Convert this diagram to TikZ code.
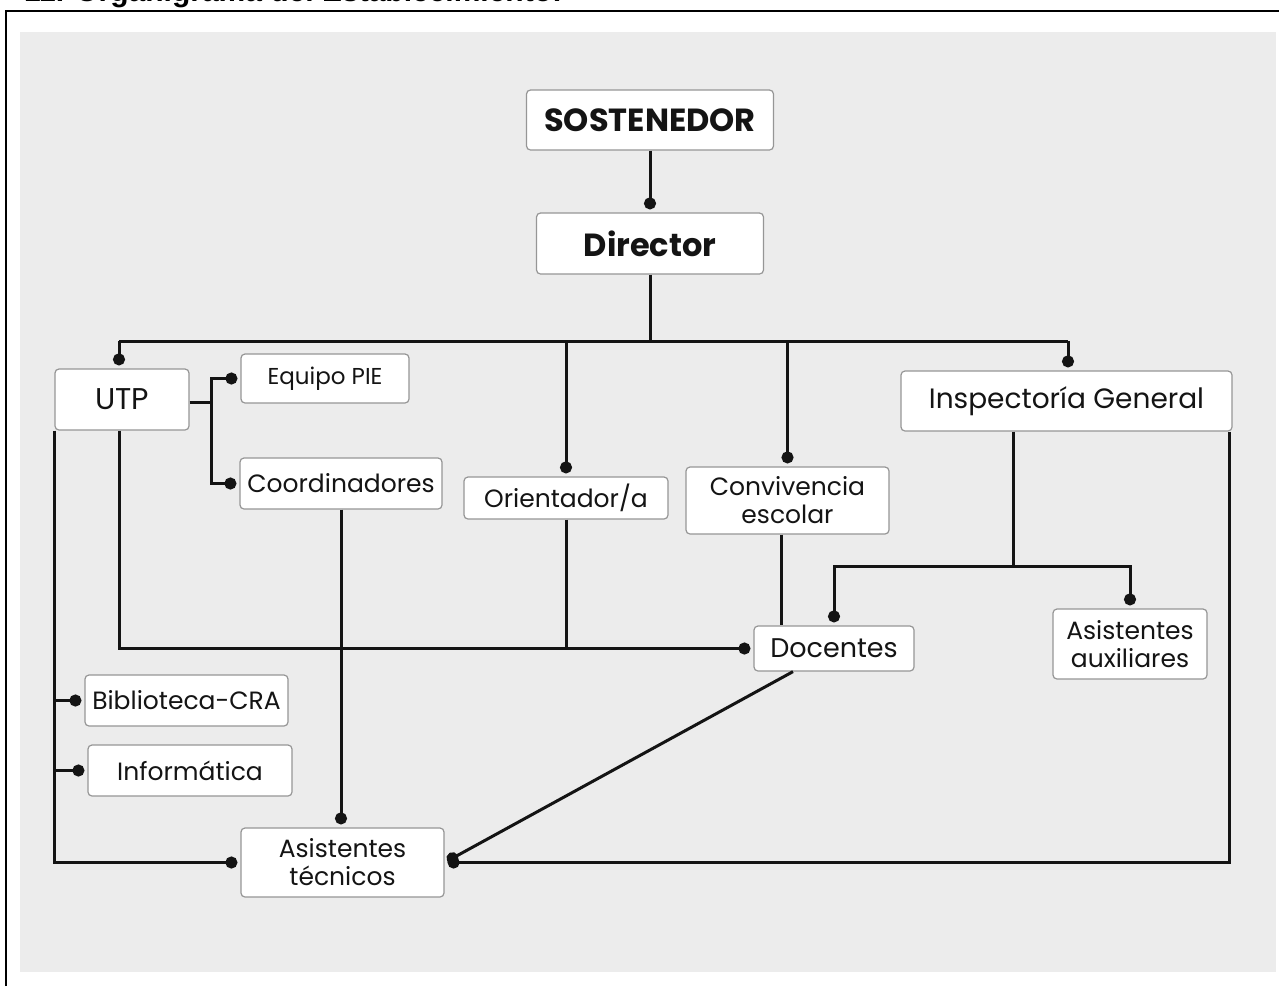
\documentclass[tikz,border=0pt]{standalone}
\usepackage{fontspec}
\setmainfont{Poppins}
\newfontfamily\titlefont{Liberation Sans}
\usetikzlibrary{arrows.meta}
\definecolor{paper}{RGB}{236,236,236}
\definecolor{boxline}{RGB}{150,150,150}
\definecolor{ink}{RGB}{20,20,20}
\tikzset{
  box/.style={draw=boxline, line width=1.2pt, rounded corners=4pt, fill=white,
    inner sep=0pt, align=center, text=ink, font=\fontsize{25}{28}\selectfont},
  bigbox/.style={box, font=\bfseries\fontsize{32}{35}\selectfont},
  conn/.style={line width=3pt, draw=ink},
  dotted end/.style={-{Circle[length=12pt,width=12pt]}, shorten >=3pt},
}
\begin{document}
\begin{tikzpicture}[x=1pt,y=-1pt]
\useasboundingbox (0,0) rectangle (1279,986);
\clip (0,0) rectangle (1279,986);
\fill[white] (0,0) rectangle (1279,986);
\fill[paper] (20,32) rectangle (1276,972);
\draw[line width=2pt] (6,986) -- (6,11) -- (1279,11);
\node[anchor=base west, inner sep=0pt, font=\titlefont\bfseries\fontsize{30}{34}\selectfont] (title) at (24,1) {11. Organigrama del Establecimiento:};

% nodes
\node[bigbox, minimum width=247, minimum height=60] (sost) at (650,120) {SOSTENEDOR};
\node[bigbox, minimum width=227, minimum height=61] (dir) at (650,243.5) {Director};
\node[box, minimum width=134, minimum height=61, font=\fontsize{30}{33}\selectfont] (utp) at (122,399.5) {UTP};
\node[box, minimum width=168, minimum height=49, font=\fontsize{23}{26}\selectfont] (pie) at (325,378.5) {Equipo PIE};
\node[box, minimum width=202, minimum height=51] (coord) at (341,483.5) {Coordinadores};
\node[box, minimum width=204, minimum height=42] (ori) at (566,498) {Orientador/a};
\node[box, minimum width=203, minimum height=67] (conv) at (787.5,500.5) {Convivencia\\escolar};
\node[box, minimum width=331, minimum height=60, font=\fontsize{28}{31}\selectfont] (insp) at (1066.5,401) {Inspectoría General};
\node[box, minimum width=160, minimum height=45, font=\fontsize{27}{30}\selectfont] (doc) at (834,648.5) {Docentes};
\node[box, minimum width=154, minimum height=70] (aux) at (1130,644) {Asistentes\\auxiliares};
\node[box, minimum width=203, minimum height=51] (bib) at (186.5,700.5) {Biblioteca-CRA};
\node[box, minimum width=204, minimum height=51] (inf) at (190,770.5) {Informática};
\node[box, minimum width=203, minimum height=69] (tec) at (342.5,862.5) {Asistentes\\técnicos};

% helper coordinates
\coordinate (busL) at (119,341);
\coordinate (busR) at (1068,341);
\coordinate (ub) at (211,402);
\coordinate (cvx) at (781,0);
\coordinate (ij) at (1013,566);
\coordinate (rr) at (1229,0);
\coordinate (ddx) at (793,0);

% connectors
\draw[conn, dotted end] (sost.south) -- (dir.north);
\draw[conn] (dir.south) -- (dir.south |- busL);
\draw[conn] (busL) -- (busR);
\draw[conn, dotted end] (busL) -- (utp.north -| busL);
\draw[conn, dotted end] (ori.north |- busL) -- (ori.north);
\draw[conn, dotted end] (conv.north |- busL) -- (conv.north);
\draw[conn, dotted end] (busR) -- (insp.north -| busR);

\draw[conn] (utp.east |- ub) -- (ub);
\draw[conn, dotted end] (ub) |- (pie.west);
\draw[conn, dotted end] (ub) |- (coord.west);

\draw[conn, dotted end] (utp.south -| busL) |- (doc.west);
\draw[conn] (ori.south) -- (ori.south |- doc.west);
\draw[conn] (conv.south -| cvx) -- (doc.north -| cvx);

\draw[conn] (insp.south -| ij) -- (ij);
\draw[conn, dotted end] (ij) -| (doc.north);
\draw[conn, dotted end] (ij) -| (aux.north);

\draw[conn, dotted end] (utp.south west) |- (tec.west);
\draw[conn, dotted end] (utp.south west |- bib.west) -- (bib.west);
\draw[conn, dotted end] (utp.south west |- inf.west) -- (inf.west);

\draw[conn, dotted end] (coord.south) -- (coord.south |- tec.north);
\draw[conn, dotted end] (insp.south -| rr) |- (tec.east);
\draw[conn, dotted end] (doc.south -| ddx) -- (tec.east);
\end{tikzpicture}
\end{document}
